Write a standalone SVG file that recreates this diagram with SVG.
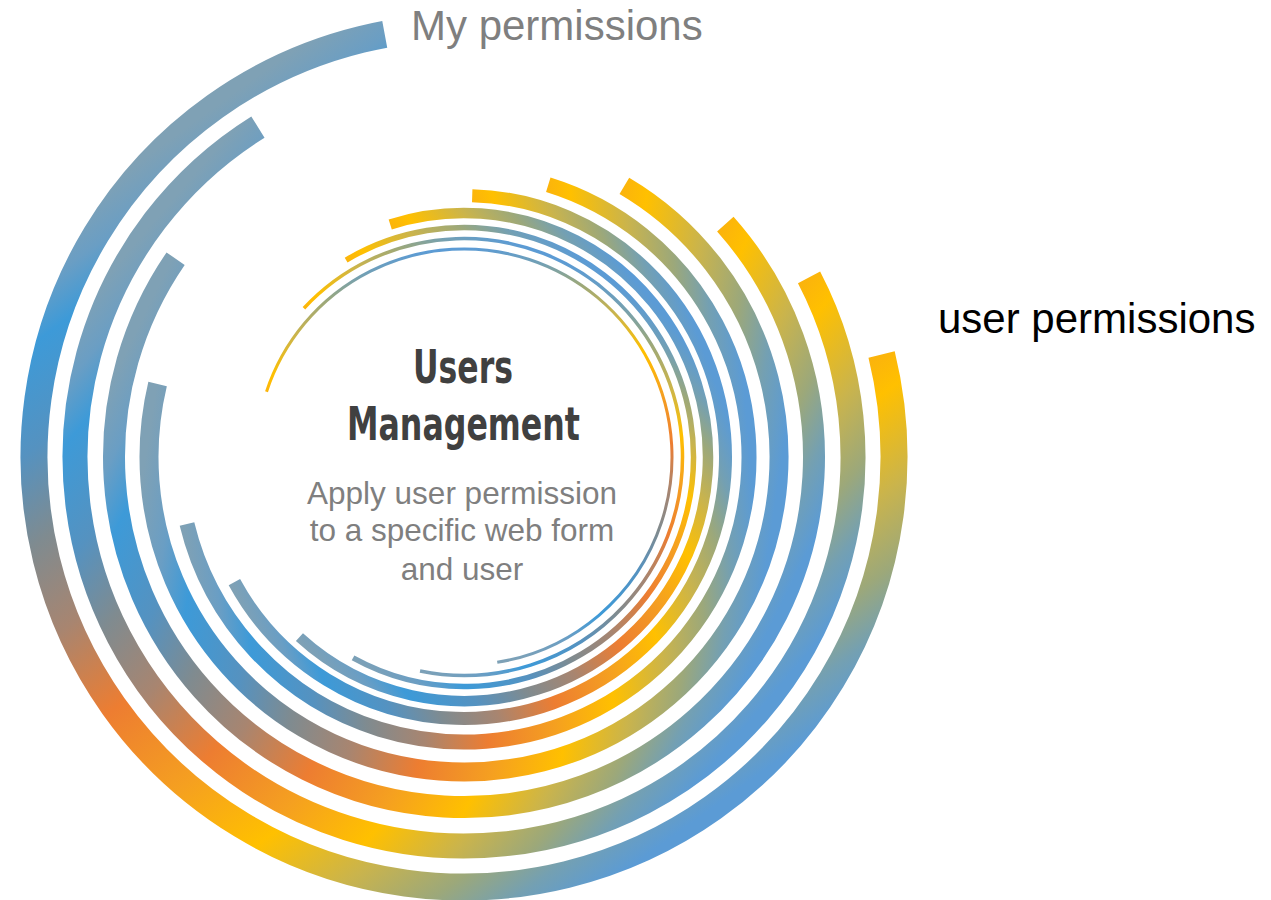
<svg xmlns="http://www.w3.org/2000/svg" width="1271" height="900" viewBox="0 0 1271 900">
<style>
.arc{fill:none;stroke:url(#ramp)}
.title{font-family:"Liberation Sans Narrow","DejaVu Sans Condensed","Roboto Condensed","Liberation Sans",sans-serif;font-weight:bold;font-size:46px;fill:#404040;text-anchor:middle}
.desc{font-family:"Liberation Sans",Arial,sans-serif;font-size:31.5px;fill:#7f7f7f;text-anchor:middle}
.side{font-family:"Liberation Sans",Arial,sans-serif;font-size:42px}
</style>
<defs>
<linearGradient id="ramp" x1="0.3127" y1="0.0364" x2="0.6873" y2="0.9636">
<stop offset="0" stop-color="#7fa1b5"/>
<stop offset="0.05" stop-color="#6a9ec4"/>
<stop offset="0.10" stop-color="#3d9ad8"/>
<stop offset="0.20" stop-color="#5592c0"/>
<stop offset="0.29" stop-color="#7f8b90"/>
<stop offset="0.39" stop-color="#a88570"/>
<stop offset="0.50" stop-color="#ed7d31"/>
<stop offset="0.62" stop-color="#f5a020"/>
<stop offset="0.725" stop-color="#ffc000"/>
<stop offset="0.82" stop-color="#cab44c"/>
<stop offset="0.895" stop-color="#9ca87a"/>
<stop offset="0.95" stop-color="#74a0b2"/>
<stop offset="1" stop-color="#5b9bd5"/>
</linearGradient>
</defs>
<rect width="1271" height="900" fill="#ffffff"/>
<g id="rings" transform="translate(464 457)">
<g id="ring1"><circle class="arc" r="430" stroke-width="27" pathLength="360" stroke-dasharray="273.2 86.8" transform="rotate(-13.8)"/></g>
<g id="ring2"><circle class="arc" r="389" stroke-width="25" pathLength="360" stroke-dasharray="265.5 94.5" transform="rotate(-27.5)"/></g>
<g id="ring3"><circle class="arc" r="350" stroke-width="22" pathLength="360" stroke-dasharray="256.2 103.8" transform="rotate(-41.7)"/></g>
<g id="ring4"><circle class="arc" r="315" stroke-width="19" pathLength="360" stroke-dasharray="252.8 107.2" transform="rotate(-59.4)"/></g>
<g id="ring5"><circle class="arc" r="285" stroke-width="15" pathLength="360" stroke-dasharray="239.2 120.8" transform="rotate(-72.8)"/></g>
<g id="ring6"><circle class="arc" r="261.5" stroke-width="13" pathLength="360" stroke-dasharray="239.6 120.4" transform="rotate(-88.2)"/></g>
<g id="ring7"><circle class="arc" r="244" stroke-width="10.5" pathLength="360" stroke-dasharray="240 120" transform="rotate(-107.6)"/></g>
<g id="ring8"><circle class="arc" r="229.5" stroke-width="5.5" pathLength="360" stroke-dasharray="239.8 120.2" transform="rotate(-120.9)"/></g>
<g id="ring9"><circle class="arc" r="218.5" stroke-width="3.5" pathLength="360" stroke-dasharray="238.7 121.3" transform="rotate(-137.1)"/></g>
<g id="ring10"><circle class="arc" r="208" stroke-width="3" pathLength="360" stroke-dasharray="242.5 117.5" transform="rotate(-161.7)"/></g>
</g>
<g id="center-title">
<text class="title" x="463" y="383" textLength="100" lengthAdjust="spacingAndGlyphs">Users</text>
<text class="title" x="463.5" y="440" textLength="233" lengthAdjust="spacingAndGlyphs">Management</text>
</g>
<g id="center-desc">
<text class="desc" x="462" y="504">Apply user permission</text>
<text class="desc" x="462" y="541">to a specific web form</text>
<text class="desc" x="462" y="580">and user</text>
</g>
<g id="label-my-permissions"><text class="side" x="411" y="40" fill="#7f7f7f">My permissions</text></g>
<g id="label-user-permissions"><text class="side" x="938" y="333" fill="#000000">user permissions</text></g>
</svg>
